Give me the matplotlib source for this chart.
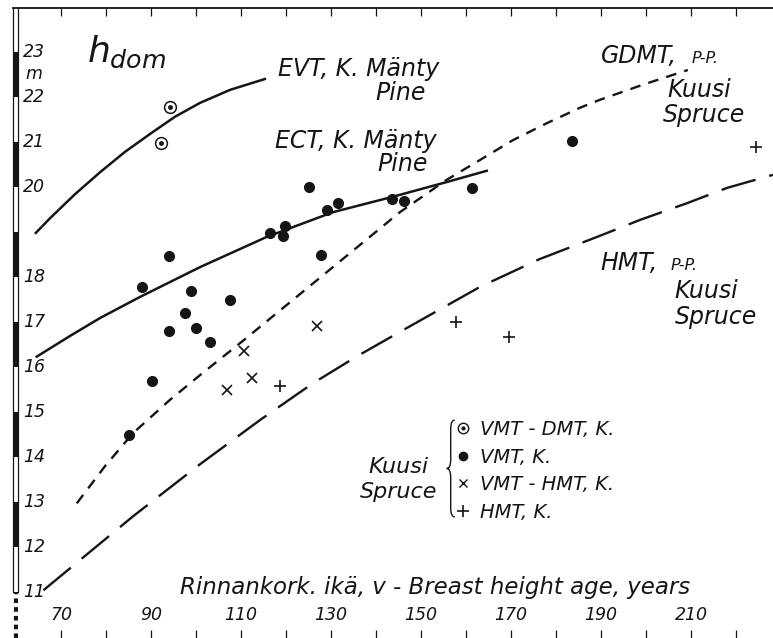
import matplotlib
matplotlib.use("Agg")
import matplotlib.pyplot as plt
from matplotlib.path import Path
from matplotlib.patches import PathPatch
from matplotlib.lines import Line2D

# Site-index guide curves: breast height age (years) vs dominant height (m)
EVT_AGE = [64.4, 67.6, 73.1, 78.7, 84.2, 89.8, 95.3, 100.9, 107.6, 115.3]
EVT_H = [18.98, 19.31, 19.84, 20.33, 20.78, 21.18, 21.56, 21.87, 22.16, 22.40]

ECT_AGE = [64.6, 72.0, 78.7, 87.6, 100.9, 115.7, 130.4, 143.6, 155.7, 164.6]
ECT_H = [16.23, 16.69, 17.09, 17.56, 18.22, 18.89, 19.44, 19.78, 20.11, 20.36]

GDMT_AGE = [73.5, 79.8, 86.0, 94.2, 100.9, 110.4, 123.1, 134.2, 145.3, 155.7,
            163.1, 170.4, 178.0, 185.3, 189.8, 199.8, 209.3]
GDMT_H = [12.97, 13.80, 14.53, 15.27, 15.82, 16.58, 17.62, 18.53, 19.44, 20.16,
          20.60, 21.04, 21.42, 21.76, 21.94, 22.29, 22.60]

HMT_AGE = [66.1, 76.4, 86.1, 100.9, 114.2, 126.0, 135.8, 145.3, 163.1, 176.4,
           189.1, 198.7, 209.1, 218.0, 228.2]
HMT_H = [11.04, 11.89, 12.69, 13.84, 14.82, 15.64, 16.24, 16.78, 17.78, 18.40,
         18.89, 19.27, 19.64, 19.98, 20.27]

# Spruce sample plots by site type
VMT_DMT_AGE = [94.2, 92.3]
VMT_DMT_H = [21.77, 20.97]

VMT_AGE = [85.0, 87.9, 90.2, 94.0, 94.0, 97.6, 98.8, 100.0, 103.0, 107.6, 116.4,
           119.3, 119.8, 125.2, 127.8, 129.1, 131.5, 143.5, 146.3, 161.3, 183.6]
VMT_H = [14.49, 17.78, 15.70, 18.47, 16.80, 17.21, 17.69, 16.86, 16.56, 17.50, 18.98,
         18.91, 19.14, 19.99, 18.50, 19.50, 19.64, 19.73, 19.69, 19.98, 21.03]

VMT_HMT_AGE = [106.8, 110.7, 112.5, 126.8]
VMT_HMT_H = [15.50, 16.36, 15.75, 16.92]

HMT_K_AGE = [118.7, 157.8, 169.6, 224.4]
HMT_K_H = [15.57, 17.00, 16.66, 20.90]

X_TICKS = list(range(70, 230, 10))
X_LABELS = [70, 90, 110, 130, 150, 170, 190, 210]
Y_LABELS = [23, 22, 21, 20, 18, 17, 16, 15, 14, 13, 12, 11]
SCALE_BLACK = [12, 14, 16, 18, 20, 22]

XLIM = (59.33, 228.22)
YLIM = (9.978, 23.978)
INK = "#151515"


def brace(ax, x, y0, y1, w=1.0, r=0.18):
    """Thin left-pointing curly brace spanning y0..y1 at x (data units)."""
    ym = 0.5 * (y0 + y1)
    verts = [(x + w, y1), (x, y1), (x, y1 - r),
             (x, ym + r), (x, ym), (x - w, ym),
             (x, ym), (x, ym - r),
             (x, y0 + r), (x, y0), (x + w, y0)]
    codes = [Path.MOVETO, Path.CURVE3, Path.CURVE3,
             Path.LINETO, Path.CURVE3, Path.CURVE3,
             Path.CURVE3, Path.CURVE3,
             Path.LINETO, Path.CURVE3, Path.CURVE3]
    ax.add_patch(PathPatch(Path(verts, codes), fc="none", ec=INK, lw=1.0))


def main():
    plt.rcParams["font.family"] = "DejaVu Sans"
    plt.rcParams["font.style"] = "italic"
    plt.rcParams["mathtext.fontset"] = "dejavusans"

    fig = plt.figure(figsize=(7.73, 6.38), dpi=100)
    ax = fig.add_axes([13 / 773, 0, 760 / 773, 630 / 638])
    ax.set_xlim(*XLIM)
    ax.set_ylim(*YLIM)
    for side in ("left", "right", "bottom"):
        ax.spines[side].set_visible(False)
    ax.spines["top"].set_linewidth(1.3)
    ax.spines["top"].set_color(INK)
    ax.set_xticks(X_TICKS)
    ax.set_xticklabels([])
    ax.set_yticks([])
    ax.tick_params(axis="x", direction="in", top=True, bottom=True,
                   length=6, width=0.9, color=INK)

    # height scale bar down the left edge
    bar = fig.add_axes([13 / 773, 0, 5 / 773, 630 / 638])
    bar.set_ylim(*YLIM)
    bar.set_xlim(0, 1)
    bar.set_xticks([])
    bar.set_yticks([])
    bar.patch.set_alpha(0)
    for side in ("top", "bottom"):
        bar.spines[side].set_visible(False)
    for side in ("left", "right"):
        bar.spines[side].set_bounds(11, YLIM[1])
        bar.spines[side].set_linewidth(0.9)
        bar.spines[side].set_color(INK)
    for lo in SCALE_BLACK:
        bar.axhspan(lo, lo + 1, color=INK, lw=0)
    bar.axvline(0.5, ymin=0, ymax=(11 - YLIM[0]) / (YLIM[1] - YLIM[0]),
                color=INK, lw=3, ls=(0, (1.1, 1.0)), solid_capstyle="butt")

    # guide curves
    ax.plot(EVT_AGE, EVT_H, color=INK, lw=1.8)
    ax.plot(ECT_AGE, ECT_H, color=INK, lw=1.8)
    ax.plot(GDMT_AGE, GDMT_H, color=INK, lw=1.7, ls=(0, (4.5, 3.5)))
    ax.plot(HMT_AGE, HMT_H, color=INK, lw=1.7, ls=(0, (15, 6)))

    # sample plots
    ax.plot(VMT_DMT_AGE, VMT_DMT_H, ls="none", marker="o", ms=8.5, mfc="none",
            mec=INK, mew=1.1)
    ax.plot(VMT_DMT_AGE, VMT_DMT_H, ls="none", marker="o", ms=2.5, color=INK)
    ax.plot(VMT_AGE, VMT_H, ls="none", marker="o", ms=7, color=INK)
    ax.plot(VMT_HMT_AGE, VMT_HMT_H, ls="none", marker="x", ms=7.5, mew=1.2, color=INK)
    ax.plot(HMT_K_AGE, HMT_K_H, ls="none", marker="+", ms=8, mew=1.2, color=INK)

    # axis numbering drawn inside the frame
    for v in Y_LABELS:
        ax.text(64.0, v, str(v), ha="center", va="center", fontsize=12.5, color=INK)
    ax.text(64.0, 22.52, "m", ha="center", va="center", fontsize=12.5, color=INK)
    for v in X_LABELS:
        ax.text(v, 10.49, str(v), ha="center", va="center", fontsize=12.5, color=INK)
    ax.text(153.1, 11.11, "Rinnankork. ikä, v - Breast height age, years",
            ha="center", va="center", fontsize=16.5, color=INK)
    ax.text(75.8, 22.78, r"$h_{dom}$", ha="left", va="baseline", fontsize=26,
            color=INK)

    # curve labels
    fs = 17
    ax.text(118.2, 22.62, "EVT, K. Mänty", ha="left", va="center", fontsize=fs, color=INK)
    ax.text(139.8, 22.10, "Pine", ha="left", va="center", fontsize=fs, color=INK)
    ax.text(117.6, 21.02, "ECT, K. Mänty", ha="left", va="center", fontsize=fs, color=INK)
    ax.text(140.2, 20.51, "Pine", ha="left", va="center", fontsize=fs, color=INK)
    ax.text(190.0, 22.76, "GDMT,", ha="left", va="baseline", fontsize=fs, color=INK)
    ax.text(210.2, 22.76, "P-P.", ha="left", va="baseline", fontsize=11.5, color=INK)
    ax.text(204.7, 22.16, "Kuusi", ha="left", va="center", fontsize=fs, color=INK)
    ax.text(203.8, 21.60, "Spruce", ha="left", va="center", fontsize=fs, color=INK)
    ax.text(189.8, 18.16, "HMT,", ha="left", va="baseline", fontsize=fs, color=INK)
    ax.text(205.5, 18.16, "P-P.", ha="left", va="baseline", fontsize=11.5, color=INK)
    ax.text(206.4, 17.69, "Kuusi", ha="left", va="center", fontsize=fs, color=INK)
    ax.text(206.4, 17.11, "Spruce", ha="left", va="center", fontsize=fs, color=INK)

    # key for the sample plots
    ring = Line2D([], [], ls="none", marker="o", ms=7.5, mfc="none", mec=INK, mew=1.0)
    pip = Line2D([], [], ls="none", marker="o", ms=2, color=INK)
    handles = [(ring, pip),
               Line2D([], [], ls="none", marker="o", ms=6, color=INK),
               Line2D([], [], ls="none", marker="x", ms=5.5, mew=1.0, color=INK),
               Line2D([], [], ls="none", marker="+", ms=8, mew=1.2, color=INK)]
    labels = ["VMT - DMT, K.", "VMT, K.", "VMT - HMT, K.", "HMT, K."]
    ax.legend(handles, labels, loc="upper left", bbox_to_anchor=(157.6, 14.82),
              bbox_transform=ax.transData, frameon=False, fontsize=14,
              handlelength=0.75, handletextpad=0.5, labelspacing=0.44,
              borderpad=0, borderaxespad=0, labelcolor=INK)
    brace(ax, 156.6, 12.67, 14.82, w=0.9, r=0.2)
    ax.text(145.0, 13.78, "Kuusi", ha="center", va="center", fontsize=16, color=INK)
    ax.text(145.0, 13.22, "Spruce", ha="center", va="center", fontsize=16, color=INK)

    fig.savefig("out.png", dpi=100, facecolor="white")


if __name__ == "__main__":
    main()
